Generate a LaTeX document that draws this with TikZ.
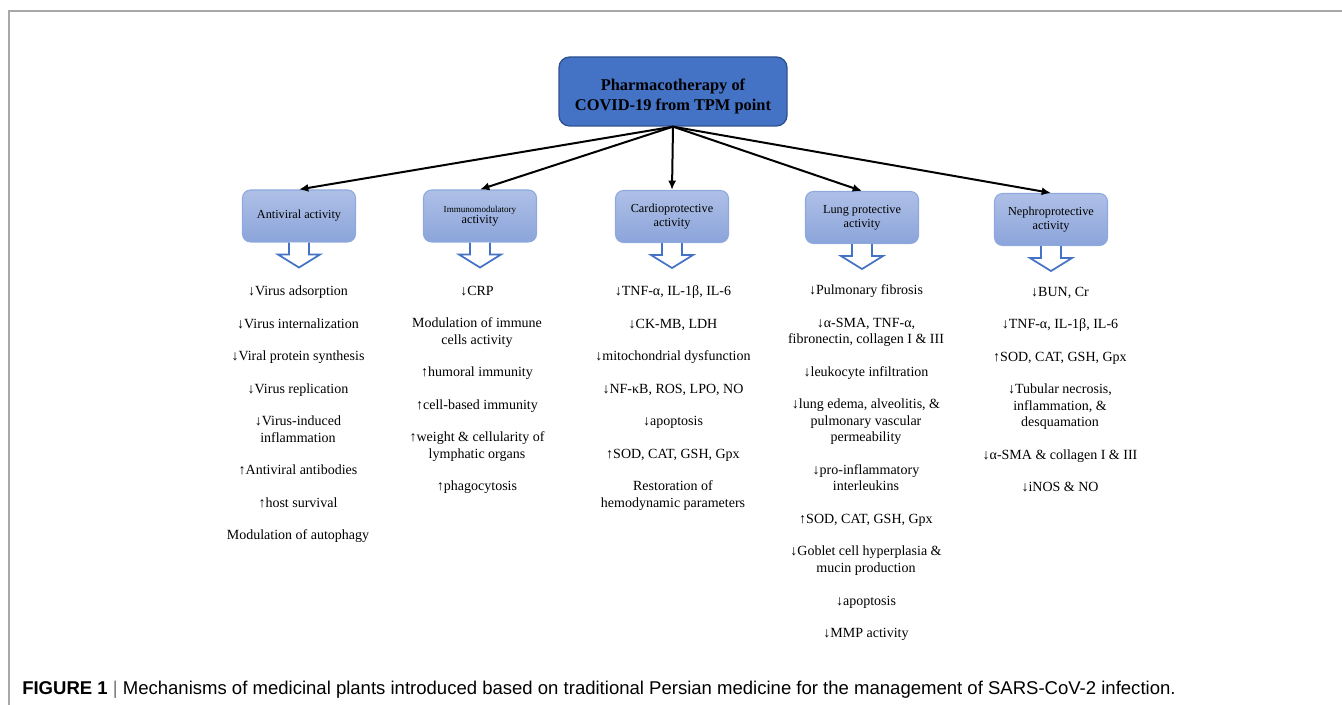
\documentclass[tikz,border=0pt]{standalone}
\usepackage{fontspec}
\setmainfont{Liberation Serif}
\newfontfamily\capfont{Liberation Sans}
\usepackage{xcolor}
\usetikzlibrary{arrows.meta,positioning,calc}
\definecolor{tpmBlue}{HTML}{4472C4}
\definecolor{tpmBlueEdge}{HTML}{2F528F}
\definecolor{actTop}{HTML}{AFC0E7}
\definecolor{actBottom}{HTML}{8BA4DA}
\definecolor{actEdge}{HTML}{8EA9DD}
\definecolor{marcoGris}{HTML}{A8A8A8}
\tikzset{
  raiz/.style={draw=tpmBlueEdge, line width=1pt, fill=tpmBlue, rounded corners=8pt, align=center, font=\fontsize{12.3}{15}\selectfont\bfseries, minimum width=171pt, minimum height=51.75pt},
  efecto/.style={draw=actEdge, line width=0.8pt, rounded corners=6pt, top color=actTop, bottom color=actBottom, align=center, font=\fontsize{9.2}{10.5}\selectfont, minimum width=84.75pt, minimum height=39pt},
  lista/.style={anchor=north, align=center, inner sep=0pt, font=\fontsize{10.5}{12.4}\selectfont},
  flecha/.style={-{Latex[length=7pt,width=6pt]}, line width=1.5pt},
  hueca/.style={draw=tpmBlue, fill=white, line width=1.3pt},
  marco/.style={draw=marcoGris, line width=0.9pt},
}

\begin{document}
\begin{tikzpicture}[x=0.75pt, y=-0.75pt]
\useasboundingbox (0,0) rectangle (1342,705);
\draw[marco] (9,705) -- (9,11) -- (1342,11);

\node[raiz] (raiz) at (673,91.5) {\rule{0pt}{16pt}Pharmacotherapy of\\COVID-19 from TPM point};

\node[efecto] (antiv) at (299,216) {Antiviral activity};
\node[efecto] (inmuno) at (480,216) {{\fontsize{6.8}{8}\selectfont Immunomodulatory}\\[-2pt]activity};
\node[efecto] (cardio) at (672,216.5) {Cardioprotective\\activity};
\node[efecto] (pulmon) at (862,217.5) {Lung protective\\activity};
\node[efecto] (nefro) at (1051,219.5) {Nephroprotective\\activity};

\draw[flecha] (raiz.south) -- (antiv.north);
\draw[flecha] (raiz.south) -- (inmuno.north);
\draw[flecha] (raiz.south) -- (cardio.north);
\draw[flecha] (raiz.south) -- (pulmon.north);
\draw[flecha] (raiz.south) -- (nefro.north);

% flechas huecas bajo cada bloque
\draw[hueca] ($(antiv.south)+(-10,0)$) -- ++(0,12) -- ++(-11,0) -- ++(21,13) -- ++(21,-13) -- ++(-11,0) -- ++(0,-12);
\draw[hueca] ($(inmuno.south)+(-10,0)$) -- ++(0,12) -- ++(-11,0) -- ++(21,13) -- ++(21,-13) -- ++(-11,0) -- ++(0,-12);
\draw[hueca] ($(cardio.south)+(-10,0)$) -- ++(0,12) -- ++(-11,0) -- ++(21,13) -- ++(21,-13) -- ++(-11,0) -- ++(0,-12);
\draw[hueca] ($(pulmon.south)+(-10,0)$) -- ++(0,12) -- ++(-11,0) -- ++(21,13) -- ++(21,-13) -- ++(-11,0) -- ++(0,-12);
\draw[hueca] ($(nefro.south)+(-10,0)$) -- ++(0,12) -- ++(-11,0) -- ++(21,13) -- ++(21,-13) -- ++(-11,0) -- ++(0,-12);

\node[lista] (antivlist) at (298,285.5) {↓Virus adsorption\\[12pt]↓Virus internalization\\[12pt]↓Viral protein synthesis\\[12pt]↓Virus replication\\[12pt]↓Virus-induced\\inflammation\\[12pt]↑Antiviral antibodies\\[12pt]↑host survival\\[12pt]Modulation of autophagy};
\node[lista] (inmunolist) at (477,285.5) {↓CRP\\[12pt]Modulation of immune\\cells activity\\[12pt]↑humoral immunity\\[12pt]↑cell-based immunity\\[12pt]↑weight \& cellularity of\\lymphatic organs\\[12pt]↑phagocytosis};
\node[lista] (cardiolist) at (673,285.5) {↓TNF-α, IL-1β, IL-6\\[12pt]↓CK-MB, LDH\\[12pt]↓mitochondrial dysfunction\\[12pt]↓NF-κB, ROS, LPO, NO\\[12pt]↓apoptosis\\[12pt]↑SOD, CAT, GSH, Gpx\\[12pt]Restoration of\\hemodynamic parameters};
\node[lista] (pulmonlist) at (866,284.5) {↓Pulmonary fibrosis\\[12pt]↓α-SMA, TNF-α,\\fibronectin, collagen I \& III\\[12pt]↓leukocyte infiltration\\[12pt]↓lung edema, alveolitis, \&\\pulmonary vascular\\permeability\\[12pt]↓pro-inflammatory\\interleukins\\[12pt]↑SOD, CAT, GSH, Gpx\\[12pt]↓Goblet cell hyperplasia \&\\mucin production\\[12pt]↓apoptosis\\[12pt]↓MMP activity};
\node[lista] (nefrolist) at (1060,286.5) {↓BUN, Cr\\[12pt]↓TNF-α, IL-1β, IL-6\\[12pt]↑SOD, CAT, GSH, Gpx\\[12pt]↓Tubular necrosis,\\inflammation, \&\\desquamation\\[12pt]↓α-SMA \& collagen I \& III\\[12pt]↓iNOS \& NO};

\node[anchor=base west, inner sep=0pt, font=\capfont\fontsize{13.9}{15}\selectfont] (leyenda) at (22,694) {\textbf{FIGURE 1} {\color{black!55}|} Mechanisms of medicinal plants introduced based on traditional Persian medicine for the management of SARS-CoV-2 infection.};
\end{tikzpicture}
\end{document}
